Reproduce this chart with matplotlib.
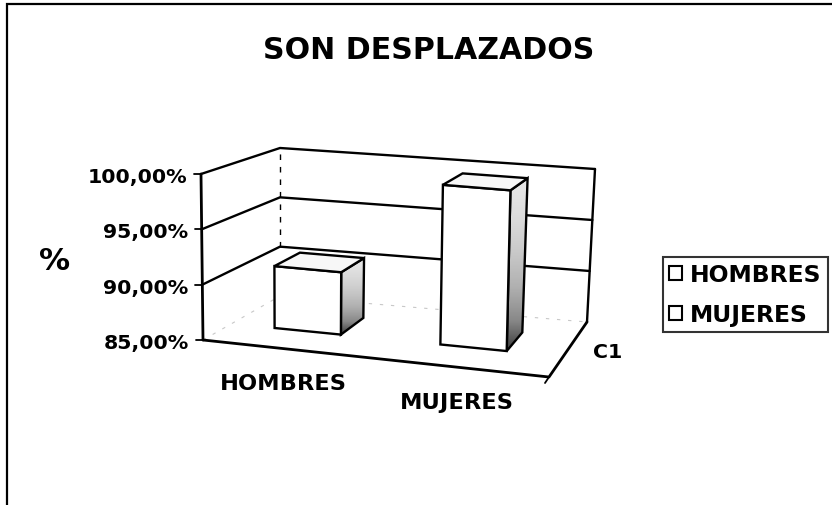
import numpy as np
import matplotlib
matplotlib.use("Agg")
import matplotlib.pyplot as plt
from matplotlib.patches import Polygon, Patch, Rectangle
from matplotlib.colors import LinearSegmentedColormap

# ---- data ----
title = "SON DESPLAZADOS"
categories = ["HOMBRES", "MUJERES"]
values = [90.8, 99.7]              # percent
y_ticks = [85, 90, 95, 100]
y_tick_labels = ["85,00%", "90,00%", "95,00%", "100,00%"]
y_axis_label = "%"
series_label = "C1"
vmin, vmax = 85.0, 100.0

# ---- figure ----
W, H = 832, 506
fig = plt.figure(figsize=(W / 100, H / 100), dpi=100)
ax = fig.add_axes([0, 0, 1, 1])
ax.set_xlim(0, W)
ax.set_ylim(H, 0)
ax.set_autoscale_on(False)
ax.axis("off")
FONT = "DejaVu Sans"
def pt(px):
    return px * 72 / 100

# 3-D box (plot area) corners in pixels: [u][w][v]  (u: category axis, w: depth, v: value)
C = {
    (0, 0, 0): (203, 341), (0, 0, 1): (201, 175),
    (0, 1, 0): (280, 297), (0, 1, 1): (280, 149),
    (1, 1, 0): (587, 323), (1, 1, 1): (595, 170),
    (1, 0, 0): (549, 378), (1, 0, 1): (552, 206),
}

def P(u, w, val):
    t = (val - vmin) / (vmax - vmin)
    p = np.zeros(2)
    for a in (0, 1):
        for b in (0, 1):
            for c in (0, 1):
                wt = (u if a else 1 - u) * (w if b else 1 - w) * (t if c else 1 - t)
                p += wt * np.array(C[(a, b, c)])
    return p

def line(pts, **kw):
    pts = np.array(pts)
    ax.plot(pts[:, 0], pts[:, 1], solid_capstyle="round", **kw)

LW = 1.7
# walls: top edges and gridlines
for v in y_ticks[1:]:
    line([P(0, 0, v), P(0, 1, v), P(1, 1, v)], color="black", lw=LW, zorder=2)
# back-right edge of back wall
line([P(1, 1, vmin), P(1, 1, vmax)], color="black", lw=LW, zorder=2)
# back-left corner (dashed)
line([P(0, 1, vmin + 5), P(0, 1, vmax)], color="black", lw=1.0, ls=(0, (4, 5)), zorder=2)
# hidden floor back edges (faint)
line([P(0, 0, vmin), P(0, 1, vmin), P(1, 1, vmin)], color="#c8c8c8", lw=0.8, ls=(0, (3, 7)), zorder=1)
# floor front and right edges
line([P(0, 0, vmin), P(1, 0, vmin), P(1, 1, vmin)], color="black", lw=LW + 0.3, zorder=6)
# vertical axis
line([P(0, 0, vmin), P(0, 0, vmax)], color="black", lw=LW + 0.3, zorder=6)

# y ticks & labels
for v, lab in zip(y_ticks, y_tick_labels):
    x, y = P(0, 0, v)
    line([(x - 7, y), (x, y)], color="black", lw=1.3, zorder=6)
    ax.text(x - 14, y + 8, lab, ha="right", va="baseline", fontsize=pt(20.5),
            fontweight="bold", family=FONT)
# tick at the end of category axis
x, y = P(1, 0, vmin)
line([(x, y), (x - 4, y + 6)], color="black", lw=1.3, zorder=6)

# bars
cmap = LinearSegmentedColormap.from_list(
    "side", ["#e6e6e6", "#cccccc", "#b0b0b0", "#888888", "#3a3a3a"])
n = len(categories)
bw = 1.0 / n / 2.5
w0, w1 = 0.37, 0.72
grad = np.linspace(0, 1, 256).reshape(-1, 1) ** 1.5
for i, val in enumerate(values):
    uc = (i + 0.5) / n - 0.02
    u0, u1 = uc - bw / 2, uc + bw / 2
    front = [P(u0, w0, vmin), P(u1, w0, vmin), P(u1, w0, val), P(u0, w0, val)]
    side = [P(u1, w0, vmin), P(u1, w1, vmin), P(u1, w1, val), P(u1, w0, val)]
    top = [P(u0, w0, val), P(u1, w0, val), P(u1, w1, val), P(u0, w1, val)]
    sp = Polygon(side, closed=True, facecolor="none", edgecolor="black", lw=LW, zorder=5)
    ax.add_patch(sp)
    s = np.array(side)
    im = ax.imshow(grad, cmap=cmap, aspect="auto", zorder=4, interpolation="bilinear",
                   extent=(s[:, 0].min(), s[:, 0].max(), s[:, 1].max(), s[:, 1].min()))
    im.set_clip_path(sp)
    ax.add_patch(Polygon(front, closed=True, facecolor="white", edgecolor="black", lw=LW, zorder=5))
    ax.add_patch(Polygon(top, closed=True, facecolor="#f7f7f7", edgecolor="black", lw=LW, zorder=5))

# category labels
for i, cat in enumerate(categories):
    x, y = P((i + 0.5) / n, 0, vmin)
    ax.text(x - 6, y + 40, cat, ha="center", va="baseline", fontsize=pt(22.5),
            fontweight="bold", family=FONT)

# series (depth) label
x, y = P(1, 0.5, vmin)
ax.text(x + 25, y + 8, series_label, ha="left", va="baseline", fontsize=pt(20.5),
        fontweight="bold", family=FONT)

# axis title "%"
ax.text(55, 262, y_axis_label, ha="center", va="center", fontsize=pt(31),
        fontweight="bold", family=FONT)

# chart title
ax.text(429, 59, title, ha="center", va="baseline", fontsize=pt(30),
        fontweight="bold", family=FONT)

# legend
handles = [Patch(facecolor="white", edgecolor="black", lw=1.5) for _ in categories]
leg = fig.legend(handles, categories, loc="upper left",
                 bbox_to_anchor=(663 / W, 1 - 258 / H), borderaxespad=0,
                 prop={"family": FONT, "weight": "bold", "size": pt(23.5)},
                 frameon=True, fancybox=False, edgecolor="black",
                 handlelength=0.55, handleheight=0.55, handletextpad=0.35,
                 labelspacing=0.72, borderpad=0.26)
leg.get_frame().set_linewidth(1.5)

# outer border (top and left visible)
fig.patches.append(Rectangle((7 / W, -0.1), 1.2, 1.1 - 5 / H, transform=fig.transFigure,
                             fill=False, edgecolor="black", lw=1.6))

fig.savefig("out.png", dpi=100)
